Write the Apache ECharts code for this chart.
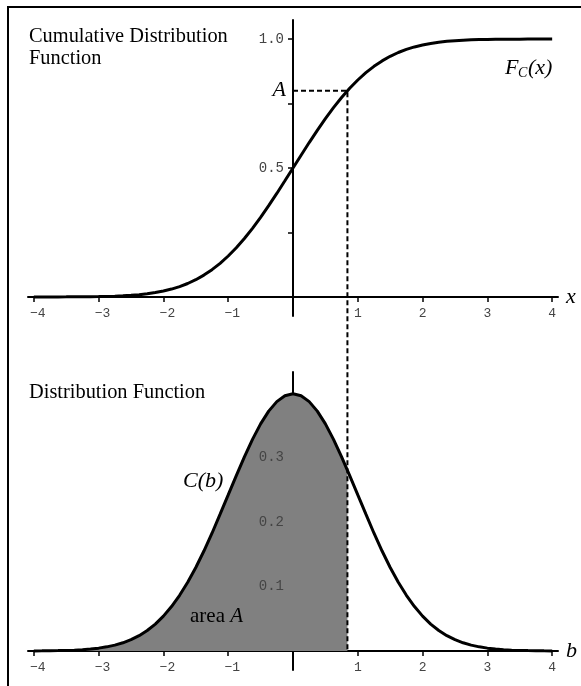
<!DOCTYPE html>
<html>
<head>
<meta charset="utf-8">
<script src="https://cdn.jsdelivr.net/npm/echarts@6/dist/echarts.min.js"></script>
<style>
  html, body { margin: 0; padding: 0; background: #fff; }
  #chart { width: 581px; height: 686px; }
</style>
</head>
<body>
<div id="chart"></div>
<script>
// values
const xs = [-4, -3.875, -3.75, -3.625, -3.5, -3.375, -3.25, -3.125, -3, -2.875, -2.75, -2.625, -2.5, -2.375,
  -2.25, -2.125, -2, -1.875, -1.75, -1.625, -1.5, -1.375, -1.25, -1.125, -1, -0.875, -0.75, -0.625, -0.5,
  -0.375, -0.25, -0.125, 0, 0.125, 0.25, 0.375, 0.5, 0.625, 0.75, 0.875, 1, 1.125, 1.25, 1.375, 1.5, 1.625,
  1.75, 1.875, 2, 2.125, 2.25, 2.375, 2.5, 2.625, 2.75, 2.875, 3, 3.125, 3.25, 3.375, 3.5, 3.625, 3.75,
  3.875, 4]
const cdfValues = [0, 0.0001, 0.0001, 0.0001, 0.0002, 0.0004, 0.0006, 0.0009, 0.0013, 0.002, 0.003, 0.0043,
  0.0062, 0.0088, 0.0122, 0.0168, 0.0228, 0.0304, 0.0401, 0.0521, 0.0668, 0.0846, 0.1056, 0.1303, 0.1587,
  0.1908, 0.2266, 0.266, 0.3085, 0.3538, 0.4013, 0.4503, 0.5, 0.5497, 0.5987, 0.6462, 0.6915, 0.734, 0.7734,
  0.8092, 0.8413, 0.8697, 0.8944, 0.9154, 0.9332, 0.9479, 0.9599, 0.9696, 0.9772, 0.9832, 0.9878, 0.9912,
  0.9938, 0.9957, 0.997, 0.998, 0.9987, 0.9991, 0.9994, 0.9996, 0.9998, 0.9999, 0.9999, 0.9999, 1]
const pdfValues = [0.0001, 0.0002, 0.0004, 0.0006, 0.0009, 0.0013, 0.002, 0.003, 0.0044, 0.0064, 0.0091,
  0.0127, 0.0175, 0.0237, 0.0317, 0.0417, 0.054, 0.0689, 0.0863, 0.1065, 0.1295, 0.155, 0.1826, 0.2121,
  0.242, 0.272, 0.3011, 0.3282, 0.3521, 0.3719, 0.3867, 0.3958, 0.3989, 0.3958, 0.3867, 0.3719, 0.3521,
  0.3282, 0.3011, 0.272, 0.242, 0.2121, 0.1826, 0.155, 0.1295, 0.1065, 0.0863, 0.0689, 0.054, 0.0417,
  0.0317, 0.0237, 0.0175, 0.0127, 0.0091, 0.0064, 0.0044, 0.003, 0.002, 0.0013, 0.0009, 0.0006, 0.0004,
  0.0002, 0.0001]
const cutX = 0.84
const areaA = 0.80
const pdfAtCut = 0.280
const xTickValues = [-4, -3, -2, -1, 1, 2, 3, 4]
const cdfTickValues = [0.25, 0.5, 0.75, 1.0]
const cdfLabelValues = [0.5, 1.0]
const pdfTickValues = [0.1, 0.2, 0.3]

const chart = echarts.init(document.getElementById('chart'))

const italic = { fontFamily: 'Liberation Serif', fontStyle: 'italic', fontSize: 22, color: '#000' }

function xAxisFor(gridIndex, name) {
  return {
    type: 'value',
    gridIndex,
    min: -4.09,
    max: 4.09,
    name,
    nameLocation: 'end',
    nameGap: 8,
    nameTextStyle: italic,
    axisLine: { show: true, onZero: true, lineStyle: { color: '#000', width: 2 } },
    axisTick: { show: true, length: 5, customValues: xTickValues, lineStyle: { color: '#000', width: 1.5 } },
    axisLabel: { show: false },
    splitLine: { show: false }
  }
}

function yAxisFor(gridIndex, min, max, ticks) {
  return {
    type: 'value',
    gridIndex,
    min,
    max,
    axisLine: { show: true, onZero: true, lineStyle: { color: '#000', width: 2 } },
    axisTick: { show: true, length: 5, customValues: ticks, lineStyle: { color: '#000', width: 1.5 } },
    axisLabel: { show: false },
    splitLine: { show: false }
  }
}

const cdfData = xs.map((x, i) => [x, cdfValues[i]])
const pdfData = xs.map((x, i) => [x, pdfValues[i]])
const fillData = pdfData.filter(p => p[0] <= cutX).concat([[cutX, pdfAtCut]])

chart.setOption({
  animation: false,
  grid: [
    { left: 28, right: 23, top: 20, bottom: 370, outerBoundsMode: 'none' },
    { left: 28, right: 23, top: 372, bottom: 16, outerBoundsMode: 'none' }
  ],
  xAxis: [xAxisFor(0, 'x'), xAxisFor(1, 'b')],
  yAxis: [
    yAxisFor(0, -0.074, 1.074, cdfTickValues),
    yAxisFor(1, -0.0295, 0.4326, pdfTickValues)
  ],
  series: [
    {
      type: 'line', xAxisIndex: 0, yAxisIndex: 0, data: cdfData, symbol: 'none',
      lineStyle: { color: '#000', width: 3 }, z: 5
    },
    {
      type: 'line', xAxisIndex: 1, yAxisIndex: 1, data: fillData, symbol: 'none',
      lineStyle: { width: 0 }, areaStyle: { color: '#808080', opacity: 1 }, z: 1
    },
    {
      type: 'line', xAxisIndex: 1, yAxisIndex: 1, data: pdfData, symbol: 'none',
      lineStyle: { color: '#000', width: 3 }, z: 5
    }
  ]
})

// tick labels sit next to the axes that cross at zero
const labelFont = '13px "Liberation Mono"'
const yLabelFont = '14px "Liberation Mono"'
const labelColor = '#444'
const labels = []
;[0, 1].forEach(g => {
  xTickValues.forEach(v => {
    const p = chart.convertToPixel({ gridIndex: g }, [v, 0])
    labels.push({
      type: 'text', z: 10, x: p[0] + (v < 0 ? 4 : 0), y: p[1] + 17,
      style: { text: v < 0 ? '\u2212' + Math.abs(v) : String(v), font: labelFont, fill: labelColor, align: 'center', verticalAlign: 'middle' }
    })
  })
})
cdfLabelValues.forEach(v => {
  const p = chart.convertToPixel({ gridIndex: 0 }, [0, v])
  labels.push({
    type: 'text', z: 10, x: p[0] - 9, y: p[1],
    style: { text: v.toFixed(1), font: yLabelFont, fill: labelColor, align: 'right', verticalAlign: 'middle' }
  })
})
pdfTickValues.forEach(v => {
  const p = chart.convertToPixel({ gridIndex: 1 }, [0, v])
  labels.push({
    type: 'text', z: 10, x: p[0] - 9, y: p[1],
    style: { text: v.toFixed(1), font: yLabelFont, fill: labelColor, align: 'right', verticalAlign: 'middle' }
  })
})

// dashed guide from the y axis at A, over to the curve and down to the lower axis
const pAxis = chart.convertToPixel({ gridIndex: 0 }, [0, areaA])
const pCurve = chart.convertToPixel({ gridIndex: 0 }, [cutX, areaA])
const pBottom = chart.convertToPixel({ gridIndex: 1 }, [cutX, 0])

const serif = '20.4px "Liberation Serif"'
const serifItalic = 'italic 22px "Liberation Serif"'

chart.setOption({
  graphic: labels.concat([
    {
      type: 'rect', silent: true, z: 10,
      shape: { x: 8, y: 7, width: 700, height: 800 },
      style: { fill: 'none', stroke: '#000', lineWidth: 2 }
    },
    {
      type: 'polyline', z: 10, silent: true,
      shape: { points: [pAxis, pCurve, pBottom] },
      style: { fill: 'none', stroke: '#000', lineWidth: 2, lineDash: [5, 3] }
    },
    {
      type: 'text', z: 10, x: 29, y: 26,
      style: { text: 'Cumulative Distribution\nFunction', font: serif, lineHeight: 22, fill: '#000', verticalAlign: 'top' }
    },
    {
      type: 'text', z: 10, x: 29, y: 383,
      style: { text: 'Distribution Function', font: serif, fill: '#000', verticalAlign: 'top' }
    },
    {
      type: 'text', z: 10, x: pAxis[0] - 7, y: pAxis[1],
      style: { text: 'A', font: serifItalic, fill: '#000', align: 'right', verticalAlign: 'middle' }
    },
    {
      type: 'text', z: 10, x: 505, y: 57,
      style: { text: 'F', font: serifItalic, fill: '#000', verticalAlign: 'top' }
    },
    {
      type: 'text', z: 10, x: 518, y: 66,
      style: { text: 'C', font: 'italic 14px "Liberation Serif"', fill: '#000', verticalAlign: 'top' }
    },
    {
      type: 'text', z: 10, x: 528, y: 57,
      style: { text: '(x)', font: serifItalic, fill: '#000', verticalAlign: 'top' }
    },
    {
      type: 'text', z: 10, x: 183, y: 470,
      style: { text: 'C(b)', font: serifItalic, fill: '#000', verticalAlign: 'top' }
    },
    {
      type: 'text', z: 10, x: 190, y: 606,
      style: {
        text: '{r|area }{i|A}',
        verticalAlign: 'top',
        rich: {
          r: { fontFamily: 'Liberation Serif', fontSize: 21, color: '#000' },
          i: { fontFamily: 'Liberation Serif', fontStyle: 'italic', fontSize: 21, color: '#000' }
        }
      }
    }
  ])
})
</script>
</body>
</html>
